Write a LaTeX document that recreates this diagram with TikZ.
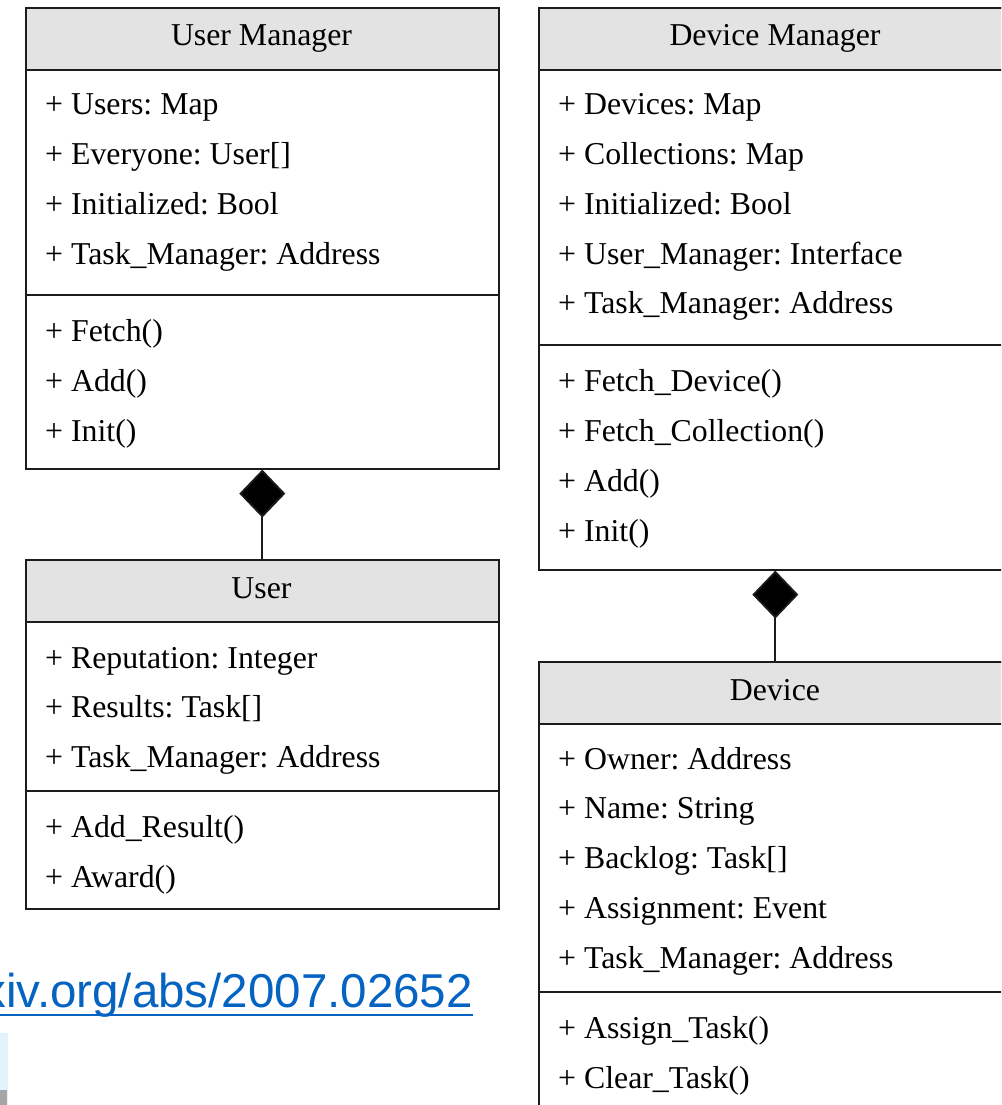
\documentclass[tikz,border=0pt]{standalone}
\usepackage{fontspec}
\setmainfont{Liberation Serif}
\newfontfamily\linkfont{Liberation Sans}
\usetikzlibrary{arrows.meta}
\definecolor{headgray}{HTML}{E3E3E3}
\definecolor{linkblue}{HTML}{0563C1}
\definecolor{edgegray}{HTML}{1C1C1C}
\definecolor{paleblue}{HTML}{E3F3FC}
\frenchspacing

\begin{document}
\begin{tikzpicture}[x=1pt,y=-1pt,
  classbox/.style={draw=edgegray, line width=1.6pt, fill=white, anchor=north west,
    inner sep=0, minimum width=473pt},
  headbox/.style={draw=edgegray, line width=1.6pt, fill=headgray, anchor=north west,
    inner sep=0, minimum width=473pt, minimum height=62pt},
  headtext/.style={anchor=base, inner sep=0, font=\fontsize{31.8}{38}\selectfont},
  member/.style={anchor=base west, inner sep=0, font=\fontsize{31.8}{38}\selectfont},
  sepline/.style={draw=edgegray, line width=1.6pt},
  composition/.style={draw=edgegray, line width=1.8pt,
    -{Diamond[length=48pt,width=46pt,fill=black]}},
]
\useasboundingbox (0,0) rectangle (1001,1105);
\clip (0,0) rectangle (1001,1105);

% ---------- User Manager ----------
\node[classbox, minimum height=461pt] (um) at (25,7) {};
\node[headbox] (umh) at (25,7) {};
\node[headtext] (umt) at (261.5,46) {User Manager};
\draw[sepline] (25,295) -- (498,295);
\foreach \t [count=\i] in {{+ Users: Map},{+ Everyone: User[]},{+ Initialized: Bool},{+ Task\_Manager: Address}}
  \node[member] (uma\i) at (45,{115+49.7*(\i-1)}) {\t};
\foreach \t [count=\i] in {{+ Fetch()},{+ Add()},{+ Init()}}
  \node[member] (umm\i) at (45,{341+50*(\i-1)}) {\t};

% ---------- User ----------
\node[classbox, minimum height=349pt] (user) at (25,559) {};
\node[headbox] (userh) at (25,559) {};
\node[headtext] (usert) at (261.5,598) {User};
\draw[sepline] (25,791) -- (498,791);
\foreach \t [count=\i] in {{+ Reputation: Integer},{+ Results: Task[]},{+ Task\_Manager: Address}}
  \node[member] (usera\i) at (45,{668+49.7*(\i-1)}) {\t};
\foreach \t [count=\i] in {{+ Add\_Result()},{+ Award()}}
  \node[member] (userm\i) at (45,{837+50*(\i-1)}) {\t};

% ---------- Device Manager ----------
\node[classbox, minimum height=562pt] (dm) at (538,7) {};
\node[headbox] (dmh) at (538,7) {};
\node[headtext] (dmt) at (775,46) {Device Manager};
\draw[sepline] (538,345) -- (1011,345);
\foreach \t [count=\i] in {{+ Devices: Map},{+ Collections: Map},{+ Initialized: Bool},{+ User\_Manager: Interface},{+ Task\_Manager: Address}}
  \node[member] (dma\i) at (558,{115+49.7*(\i-1)}) {\t};
\foreach \t [count=\i] in {{+ Fetch\_Device()},{+ Fetch\_Collection()},{+ Add()},{+ Init()}}
  \node[member] (dmm\i) at (558,{391+50*(\i-1)}) {\t};

% ---------- Device ----------
\node[classbox, minimum height=500pt] (dev) at (538,661) {};
\node[headbox] (devh) at (538,661) {};
\node[headtext] (devt) at (775,700) {Device};
\draw[sepline] (538,992) -- (1011,992);
\foreach \t [count=\i] in {{+ Owner: Address},{+ Name: String},{+ Backlog: Task[]},{+ Assignment: Event},{+ Task\_Manager: Address}}
  \node[member] (deva\i) at (558,{769+49.9*(\i-1)}) {\t};
\foreach \t [count=\i] in {{+ Assign\_Task()},{+ Clear\_Task()}}
  \node[member] (devm\i) at (558,{1038+50*(\i-1)}) {\t};

% ---------- compositions ----------
\draw[composition] (user.north) -- (um.south);
\draw[composition] (dev.north) -- (dm.south);

% ---------- link ----------
\node[anchor=base east, inner sep=0, text=linkblue,
  font=\linkfont\fontsize{47.5}{54}\selectfont] (link) at (473,1007) {arxiv.org/abs/2007.02652};
\draw[linkblue, line width=2.6pt] ([yshift=-8pt]link.base west) -- ([yshift=-8pt]link.base east);

% ---------- fragment at lower left ----------
\fill[paleblue] (0,1033) rectangle (8,1105);
\fill[gray!70] (0,1090) rectangle (7,1105);
\end{tikzpicture}
\end{document}
